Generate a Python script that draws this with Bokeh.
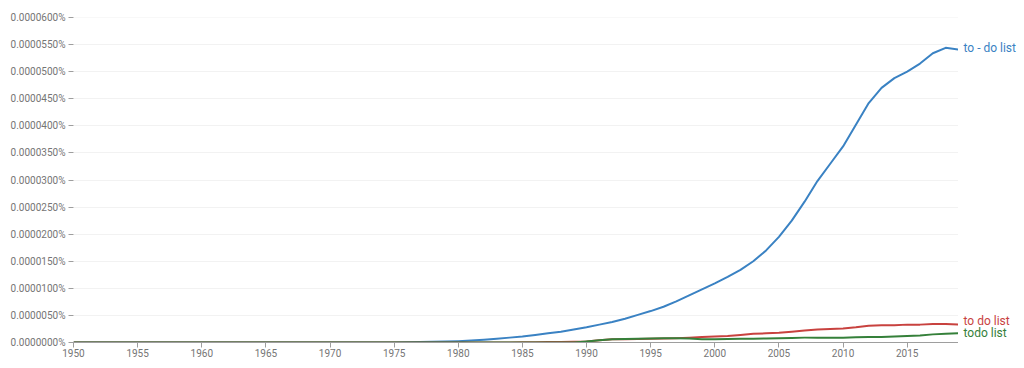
from bokeh.plotting import figure
from bokeh.layouts import row
from bokeh.models import Range1d, FixedTicker, PrintfTickFormatter, ColumnDataSource
from bokeh.core.properties import value
from bokeh.embed import file_html
from bokeh.resources import INLINE

years = list(range(1950, 2020))

# values in percent (x 1e-5 below)
todo_dash = [0.0] * 26 + [0.005, 0.008, 0.012, 0.018, 0.025, 0.035, 0.05, 0.07, 0.09,
    0.11, 0.14, 0.17, 0.20, 0.24, 0.28, 0.33, 0.38, 0.44, 0.51, 0.58, 0.66, 0.76, 0.87,
    0.98, 1.09, 1.21, 1.34, 1.50, 1.70, 1.95, 2.25, 2.60, 2.98, 3.30, 3.62, 4.02, 4.42,
    4.70, 4.88, 5.00, 5.15, 5.34, 5.44, 5.41]
to_do = [0.0] * 35 + [0.005, 0.006, 0.008, 0.01, 0.015, 0.02, 0.04, 0.06, 0.06, 0.065,
    0.07, 0.075, 0.08, 0.09, 0.10, 0.11, 0.12, 0.14, 0.16, 0.17, 0.18, 0.20, 0.22, 0.24,
    0.25, 0.26, 0.28, 0.31, 0.32, 0.32, 0.33, 0.33, 0.34, 0.34, 0.33]
todo = [0.0] * 40 + [0.02, 0.04, 0.06, 0.065, 0.07, 0.075, 0.08, 0.08, 0.075, 0.06,
    0.06, 0.065, 0.07, 0.07, 0.075, 0.08, 0.085, 0.09, 0.09, 0.09, 0.09, 0.095, 0.10,
    0.10, 0.11, 0.12, 0.13, 0.15, 0.16, 0.17]

names = ["to - do list", "to do list", "todo list"]
colors = ["#3a82c3", "#c8423f", "#35803a"]
label_dy = [-1, -4, 0]

y_ticks = [i * 5 / 1e6 for i in range(13)]
x_ticks = list(range(1950, 2016, 5))

yr = Range1d(0, 6.00001e-5)
p = figure(width=958, height=368, output_backend="svg", toolbar_location=None,
           x_range=Range1d(1950, 2019), y_range=yr,
           min_border_left=73, min_border_right=0, min_border_top=17, min_border_bottom=26)
p.outline_line_color = None

last_vals = []
for vals, color in zip([todo_dash, to_do, todo], colors):
    ys = [v * 1e-5 for v in vals]
    p.line(years, ys, line_color=color, line_width=2, line_join="round")
    last_vals.append(ys[-1])

p.xgrid.grid_line_color = None
p.ygrid.grid_line_color = "#f2f2f2"
p.ygrid.grid_line_width = 1

p.yaxis.ticker = FixedTicker(ticks=y_ticks)
p.yaxis.formatter = PrintfTickFormatter(format="%.7f%%")
p.yaxis.axis_line_color = None
p.yaxis.major_tick_line_color = "#9e9e9e"
p.yaxis.major_tick_out = 5
p.yaxis.major_tick_in = 0
p.yaxis.minor_tick_line_color = None
p.yaxis.major_label_standoff = 3

p.xaxis.ticker = FixedTicker(ticks=x_ticks)
p.xaxis.axis_line_color = "#9e9e9e"
p.xaxis.major_tick_line_color = "#9e9e9e"
p.xaxis.major_tick_out = 5
p.xaxis.major_tick_in = 0
p.xaxis.minor_tick_line_color = None
p.xaxis.major_label_standoff = 1

for ax in (p.xaxis, p.yaxis):
    ax.major_label_text_font = "Roboto"
    ax.major_label_text_font_size = "10px"
    ax.major_label_text_color = "#757575"

# right-hand series labels
p2 = figure(width=66, height=368, output_backend="svg", toolbar_location=None,
            x_range=Range1d(0, 66), y_range=yr,
            min_border_left=0, min_border_right=0, min_border_top=17, min_border_bottom=26)
p2.axis.visible = False
p2.grid.grid_line_color = None
p2.outline_line_color = None
src = ColumnDataSource(dict(x=[5] * 3, y=last_vals, text=names, color=colors, dy=label_dy))
p2.text(x="x", y="y", text="text", text_color="color", y_offset="dy", source=src,
        text_baseline="middle", text_font=value("Roboto"), text_font_size="12px")

layout = row(p, p2, spacing=0)
open("out.html", "w").write(file_html(layout, INLINE))
